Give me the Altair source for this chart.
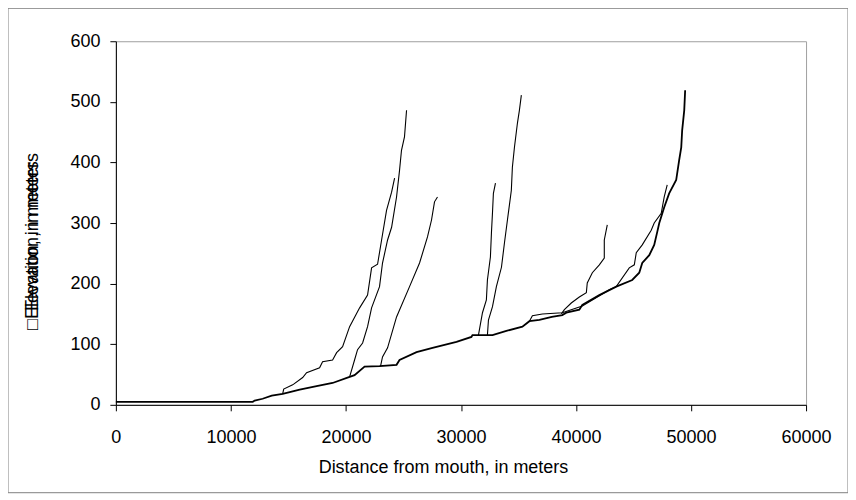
import altair as alt
import pandas as pd

# ---- data (distance from mouth in m, elevation in m) ----
main_x = [0, 11900, 12070, 12760, 13550, 14500, 14940, 15980, 17450, 18840, 20320, 20750,
          21620, 22920, 24400, 24660, 26140, 27530, 29610, 30910, 31000, 32740, 33950, 35340,
          35950, 36820, 37900, 38810, 39160, 40290, 40550, 42030, 43500, 44890, 45500, 45760,
          46370, 46800, 47060, 47240, 47670, 48100, 48710, 48970, 49150, 49230, 49410, 49490]
main_y = [5, 5, 7, 10, 15, 18, 20, 25, 31, 36, 46, 49,
          63, 64, 66, 74, 87, 94, 104, 112, 115, 115, 122, 129,
          138, 140, 145, 148, 152, 157, 165, 181, 195, 206, 218, 234,
          247, 264, 285, 300, 326, 349, 371, 404, 425, 453, 486, 519]

a_x = [14500, 14590, 15370, 16240, 16580, 17710, 17970, 18840, 19190, 19710, 20320, 21190,
       21880, 22230, 22750, 23100, 23530, 23970, 24230]
a_y = [18, 26, 33, 45, 53, 61, 71, 74, 86, 96, 129, 160,
       181, 226, 232, 272, 321, 351, 374]

b_x = [20320, 20750, 21010, 21450, 21880, 22230, 22920, 23180, 23620, 23970, 24400, 24660,
       24830, 25090, 25270]
b_y = [46, 74, 91, 102, 129, 160, 195, 234, 272, 293, 343, 387,
       420, 442, 486]

c_x = [23010, 23180, 23620, 24400, 25530, 26400, 27090, 27440, 27700, 27960]
c_y = [64, 79, 94, 145, 195, 234, 277, 305, 335, 343]

d_x = [31520, 31870, 32210, 32300, 32560, 32650, 32740, 32820, 33000]
d_y = [115, 152, 173, 206, 244, 284, 317, 349, 366]

e_x = [32300, 32390, 32740, 33080, 33520, 33780, 34040, 34380, 34470, 34650, 34910, 35080, 35250]
e_y = [115, 140, 162, 195, 227, 267, 305, 354, 392, 425, 465, 486, 511]

f_x = [38730, 38990, 39590, 40290, 40900, 40980, 41420, 42030, 42460, 42460, 42720]
f_y = [150, 157, 168, 178, 185, 201, 218, 231, 242, 272, 297]

g_x = [35950, 36210, 37080, 38810, 40550, 41420, 42900, 43500, 44630, 45070, 45240, 45760,
       46540, 46800, 47410, 47670, 47930]
g_y = [138, 147, 150, 152, 163, 173, 190, 195, 226, 231, 251, 264,
       288, 300, 316, 343, 363]

x_ticks = [0, 10000, 20000, 30000, 40000, 50000, 60000]
y_ticks = [0, 100, 200, 300, 400, 500, 600]

x_title = "Distance from mouth, in meters"
y_title_a = "\u25a1Elevation, in meters"
y_title_b = "Elevation, in meters"

# ---- tables ----
df_main = pd.DataFrame({"x": main_x, "y": main_y, "i": range(len(main_x))})
branch_rows = []
for name, xs, ys in [("A", a_x, a_y), ("B", b_x, b_y), ("C", c_x, c_y), ("D", d_x, d_y),
                     ("E", e_x, e_y), ("F", f_x, f_y), ("G", g_x, g_y)]:
    for i, (xv, yv) in enumerate(zip(xs, ys)):
        branch_rows.append({"series": name, "x": xv, "y": yv, "i": i})
df_br = pd.DataFrame(branch_rows)

FONT = "Liberation Sans"
W, H = 691, 364

x_enc = alt.X("x:Q", scale=alt.Scale(domain=[0, 60000], nice=False, zero=False),
              axis=alt.Axis(values=x_ticks, format="d", title=None, grid=False,
                            labelFont=FONT, labelFontSize=18, labelColor="black",
                            labelPadding=18, tickSize=6, tickColor="black",
                            domainColor="black", labelFlush=False, labelOverlap=False))
y_enc = alt.Y("y:Q", scale=alt.Scale(domain=[0, 600], nice=False),
              axis=alt.Axis(values=y_ticks, format="d", title=None, grid=False,
                            labelFont=FONT, labelFontSize=18, labelColor="black",
                            labelPadding=10, tickSize=6, tickColor="black",
                            domainColor="black", labelOverlap=False))

main_line = alt.Chart(df_main).mark_line(color="black", strokeWidth=1.8).encode(
    x=x_enc, y=y_enc, order="i:Q")
branch_lines = alt.Chart(df_br).mark_line(color="black", strokeWidth=1.1).encode(
    x="x:Q", y="y:Q", detail="series:N", order="i:Q")

border = alt.Chart(pd.DataFrame({"k": [0]})).mark_rect(
    fillOpacity=0, stroke="#808080", strokeWidth=1).encode(
    x=alt.value(-108), x2=alt.value(733), y=alt.value(-33), y2=alt.value(452))

xt = alt.Chart(pd.DataFrame({"t": [x_title]})).mark_text(
    font=FONT, fontSize=18, color="black", align="center", baseline="middle").encode(
    text="t:N", x=alt.value(328), y=alt.value(427))

yt_a = alt.Chart(pd.DataFrame({"t": [y_title_a]})).mark_text(
    font=FONT, fontSize=18, color="black", align="left", baseline="middle", angle=270).encode(
    text="t:N", x=alt.value(-83), y=alt.value(289))
yt_b = alt.Chart(pd.DataFrame({"t": [y_title_b]})).mark_text(
    font=FONT, fontSize=18, color="black", align="left", baseline="middle", angle=270).encode(
    text="t:N", x=alt.value(-83), y=alt.value(270))

chart = alt.layer(border, main_line, branch_lines, xt, yt_a, yt_b).properties(
    width=W, height=H,
    autosize=alt.AutoSizeParams(type="none"),
    padding={"left": 108, "top": 33, "right": 42, "bottom": 90},
    background="white",
).configure_view(stroke="#a0a0a0", strokeWidth=1)

chart.save("out.html", embed_options={"renderer": "svg", "actions": False})
